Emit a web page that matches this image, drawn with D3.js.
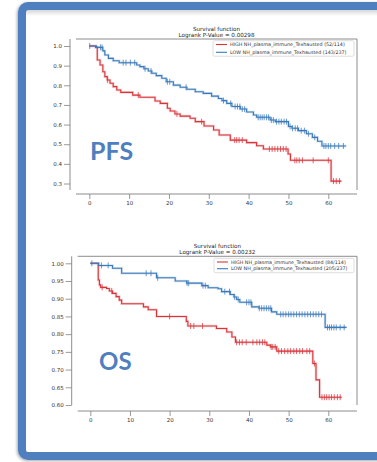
<!DOCTYPE html>
<html><head><meta charset="utf-8">
<script src="https://cdn.jsdelivr.net/npm/d3@7"></script>
<style>html,body{margin:0;padding:0;background:#fff;}svg{display:block;}</style>
</head><body>
<svg id="chart" width="377" height="462"></svg>
<script>
// ---------- DATA ----------
const xTicks = [0, 10, 20, 30, 40, 50, 60];
const pfsYTicks = [0.3, 0.4, 0.5, 0.6, 0.7, 0.8, 0.9, 1.0];
const osYTicks = [0.60, 0.65, 0.70, 0.75, 0.80, 0.85, 0.90, 0.95, 1.00];

const pfsTitle = ["Survival function", "Logrank P-Value = 0.00298"];
const osTitle = ["Survival function", "Logrank P-Value = 0.00232"];
const pfsLegend = ["HIGH NH_plasma_immune_Texhausted (52/114)", "LOW NH_plasma_immune_Texhausted (143/237)"];
const osLegend = ["HIGH NH_plasma_immune_Texhausted (84/114)", "LOW NH_plasma_immune_Texhausted (205/237)"];
const panelLabels = ["PFS", "OS"];

// step curves: [time, survival from that time on]
const pfsHigh = [[0,1.0],[1.6,0.993],[2.0,0.929],[2.7,0.903],[3.4,0.869],[3.9,0.844],[4.5,0.827],[5.2,0.81],[6.0,0.793],[6.9,0.776],[7.9,0.764],[10.9,0.75],[12.7,0.739],[16.5,0.72],[17.8,0.708],[19.6,0.683],[20.3,0.669],[21.5,0.654],[22.8,0.643],[25.3,0.632],[26.6,0.615],[28.8,0.593],[31.2,0.572],[32.6,0.547],[35.4,0.521],[39.5,0.508],[42,0.492],[43.7,0.476],[49.9,0.45],[50.5,0.418],[60.7,0.312],[63.3,0.312]];
const pfsLow = [[0,1.0],[1.8,0.993],[3.4,0.975],[3.9,0.954],[4.8,0.937],[6.0,0.925],[7.5,0.915],[11.9,0.903],[12.7,0.895],[13.7,0.884],[14.8,0.873],[15.7,0.861],[16.8,0.849],[18.2,0.836],[19.3,0.818],[21.1,0.801],[22.8,0.79],[24.5,0.78],[26.6,0.767],[28.6,0.759],[30.7,0.745],[32.4,0.733],[33.3,0.722],[34.5,0.708],[35.8,0.692],[37.9,0.679],[39.5,0.664],[41.2,0.649],[42,0.637],[45.4,0.623],[46.7,0.615],[50,0.59],[50.9,0.581],[52.5,0.569],[54.5,0.553],[56,0.535],[57.3,0.515],[58.4,0.491],[64.5,0.491]];
const osHigh = [[0,1.0],[2.0,0.953],[2.3,0.939],[2.6,0.932],[4.1,0.929],[4.8,0.922],[5.6,0.915],[6.5,0.906],[7.3,0.896],[7.9,0.886],[13.4,0.877],[14.6,0.869],[16.7,0.85],[24.2,0.836],[24.6,0.823],[31.8,0.816],[34.4,0.806],[35.7,0.792],[36.6,0.777],[44.5,0.769],[45.4,0.764],[47,0.752],[56.1,0.717],[56.9,0.671],[57.8,0.622],[63.4,0.622]];
const osLow = [[0,1.0],[2.1,0.994],[5.6,0.986],[7.9,0.972],[16.7,0.959],[21.4,0.95],[24.3,0.944],[28.1,0.937],[29.7,0.931],[32.2,0.928],[33.1,0.92],[35.3,0.912],[36.2,0.905],[36.9,0.898],[37.7,0.89],[40.7,0.877],[42.5,0.873],[45.7,0.863],[47,0.856],[59.2,0.819],[64.6,0.819]];

// censoring times
const pfsHighCensor = [4.6,12.3,22.0,28.2,36.5,37.0,37.6,38.4,45.2,45.9,46.6,47.3,48.0,48.7,49.4,51.6,52.1,52.7,53.5,56.2,60.0,61.3,62.0,62.8];
const pfsLowCensor = [0.1,2.8,3.2,8.5,9.2,10.3,11.4,14.0,15.5,19.6,20.2,24.3,33.7,35.5,36.6,37.2,37.8,38.4,39.0,42.4,42.9,43.4,43.9,44.5,45.0,45.7,46.2,47.0,47.6,48.2,48.9,49.5,50.4,51.0,51.7,52.3,53.2,54.0,55.0,56.6,58.9,59.4,60.0,60.6,61.6,62.6,63.8];
const osHighCensor = [3.0,5.4,20.0,25.3,26.1,28.3,36.9,37.6,38.3,39.3,41.0,42.0,42.7,43.4,44.0,45.6,46.0,46.6,47.5,48.2,49.0,49.8,50.5,51.3,52.0,52.8,53.5,54.6,55.3,56.5,58.4,59.0,59.6,60.2,60.8,61.5,62.3,63.0];
const osLowCensor = [0.4,2.8,4.5,14.1,15.3,17.0,24.4,24.8,28.4,29.0,33.9,35.1,36.4,37.3,39.4,40.0,40.5,42.6,43.2,43.8,44.4,45.0,45.5,48.0,48.6,49.3,50.0,50.6,51.3,52.0,52.7,53.4,54.1,54.8,55.5,56.2,56.9,57.6,58.3,59.8,60.3,60.8,61.4,62.0,63.0,64.0];

// ---------- STYLE ----------
const RED = "#d8353b", BLUE = "#3a7aba", FRAME = "#4f7fbf", AX = "#808080", TXT = "#333";
const FONT = "DejaVu Sans";

const svg = d3.select("#chart");
const defs = svg.append("defs");
const f = defs.append("filter").attr("id","sh").attr("x","-10%").attr("y","-10%").attr("width","120%").attr("height","120%");
f.append("feDropShadow").attr("dx",-1).attr("dy",1).attr("stdDeviation",1.6).attr("flood-color","#000").attr("flood-opacity",0.35);
const g1 = defs.append("linearGradient").attr("id","topsh").attr("x1",0).attr("y1",0).attr("x2",0).attr("y2",1);
g1.append("stop").attr("offset","0%").attr("stop-color","#000").attr("stop-opacity",0.16);
g1.append("stop").attr("offset","100%").attr("stop-color","#000").attr("stop-opacity",0);

// frame
svg.append("rect").attr("x",22).attr("y",6).attr("width",420).attr("height",450).attr("rx",6)
  .attr("fill","#fff").attr("stroke",FRAME).attr("stroke-width",8).attr("filter","url(#sh)");
svg.append("rect").attr("x",26).attr("y",10).attr("width",351).attr("height",6).attr("fill","url(#topsh)");

function stepAt(curve, t){
  let s = curve[0][1];
  for (const [tt, ss] of curve){ if (tt <= t) s = ss; else break; }
  return s;
}

function panel(cfg){
  const g = svg.append("g");
  const x = d3.scaleLinear().domain([0,60]).range(cfg.xr);
  const y = d3.scaleLinear().domain([cfg.yTicks[0], cfg.yTicks[cfg.yTicks.length-1]]).range(cfg.yr);

  // box (top + right)
  g.append("line").attr("x1",cfg.boxL).attr("x2",cfg.boxR).attr("y1",cfg.boxT).attr("y2",cfg.boxT).attr("stroke",AX).attr("stroke-width",0.9);
  g.append("line").attr("x1",cfg.boxR).attr("x2",cfg.boxR).attr("y1",cfg.boxT).attr("y2",cfg.boxB).attr("stroke",AX).attr("stroke-width",0.9);

  // y axis (offset spine)
  const ya = d3.axisLeft(y).tickValues(cfg.yTicks).tickFormat(d3.format(cfg.yFmt)).tickSize(6).tickPadding(2);
  const yg = g.append("g").attr("transform",`translate(${cfg.spineX},0)`).call(ya);
  yg.select(".domain").remove();
  yg.append("line").attr("x1",0).attr("x2",0).attr("y1",cfg.boxT).attr("y2",cfg.boxB).attr("stroke",AX).attr("stroke-width",0.9);
  // x axis (offset spine)
  const xa = d3.axisBottom(x).tickValues(xTicks).tickFormat(d3.format("d")).tickSize(5).tickPadding(2);
  const xg = g.append("g").attr("transform",`translate(0,${cfg.spineY})`).call(xa);
  xg.select(".domain").remove();
  xg.append("line").attr("x1",cfg.boxL).attr("x2",cfg.boxR).attr("y1",0).attr("y2",0).attr("stroke",AX).attr("stroke-width",0.9);
  [yg,xg].forEach(a=>{
    a.selectAll(".tick line").attr("stroke",AX).attr("stroke-width",0.8);
    a.selectAll(".tick text").attr("fill",TXT).attr("font-family",FONT).attr("font-size","5.5px");
  });

  // title
  g.append("text").attr("x",(cfg.boxL+cfg.boxR)/2).attr("y",cfg.titleY).attr("text-anchor","middle")
    .attr("font-family",FONT).attr("font-size","5.6px").attr("fill","#222").text(cfg.title[0]);
  g.append("text").attr("x",(cfg.boxL+cfg.boxR)/2).attr("y",cfg.titleY+5.7).attr("text-anchor","middle")
    .attr("font-family",FONT).attr("font-size","5.6px").attr("fill","#222").text(cfg.title[1]);

  // curves
  const line = d3.line().x(d=>x(d[0])).y(d=>y(d[1])).curve(d3.curveStepAfter);
  cfg.series.forEach(s=>{
    g.append("path").attr("d",line(s.data)).attr("fill","none").attr("stroke",s.color).attr("stroke-width",2.6).attr("stroke-opacity",0.22);
    g.append("path").attr("d",line(s.data)).attr("fill","none").attr("stroke",s.color).attr("stroke-width",1.1);
    g.selectAll(null).data(s.censor).enter().append("line")
      .attr("x1",d=>x(d)).attr("x2",d=>x(d))
      .attr("y1",d=>y(stepAt(s.data,d))-3).attr("y2",d=>y(stepAt(s.data,d))+3)
      .attr("stroke",s.color).attr("stroke-width",0.9).attr("stroke-opacity",0.85);
  });

  // legend
  const lg = g.append("g");
  lg.append("rect").attr("x",cfg.leg.x).attr("y",cfg.leg.y).attr("width",cfg.leg.w).attr("height",cfg.leg.h).attr("rx",1.5)
    .attr("fill","#fff").attr("stroke","#cfcfcf").attr("stroke-width",0.7);
  cfg.series.forEach((s,i)=>{
    const yy = cfg.leg.y + cfg.leg.rows[i];
    lg.append("line").attr("x1",cfg.leg.x+3).attr("x2",cfg.leg.x+14).attr("y1",yy).attr("y2",yy).attr("stroke",s.color).attr("stroke-width",1.1);
    lg.append("text").attr("x",cfg.leg.x+17).attr("y",yy+1.7).attr("font-family",FONT).attr("font-size","4.8px").attr("fill","#333").text(cfg.legend[i]);
  });

  // big label
  g.append("text").attr("x",cfg.lab.x).attr("y",cfg.lab.y).attr("font-family","Lato, 'Open Sans', sans-serif").attr("font-weight","bold")
    .attr("font-size",cfg.lab.size+"px").attr("fill",FRAME).text(cfg.label);
}

panel({
  xr:[89.3,328.3], yr:[183.5,46], yTicks:pfsYTicks, yFmt:".1f",
  boxL:76, boxR:357, boxT:39, boxB:190, spineX:70, spineY:194, titleY:31,
  title:pfsTitle, legend:pfsLegend, label:panelLabels[0],
  leg:{x:213,y:40.7,w:141,h:15.5,rows:[3.8,11.6]}, lab:{x:90,y:160,size:25},
  series:[{data:pfsHigh,censor:pfsHighCensor,color:RED},{data:pfsLow,censor:pfsLowCensor,color:BLUE}]
});
panel({
  xr:[90.3,328.3], yr:[405,263.3], yTicks:osYTicks, yFmt:".2f",
  boxL:77.7, boxR:357, boxT:256.3, boxB:405, spineX:71.7, spineY:411, titleY:248,
  title:osTitle, legend:osLegend, label:panelLabels[1],
  leg:{x:214,y:258.3,w:140,h:14.4,rows:[3.7,10.4]}, lab:{x:99,y:370,size:24},
  series:[{data:osHigh,censor:osHighCensor,color:RED},{data:osLow,censor:osLowCensor,color:BLUE}]
});
</script>
</body></html>
